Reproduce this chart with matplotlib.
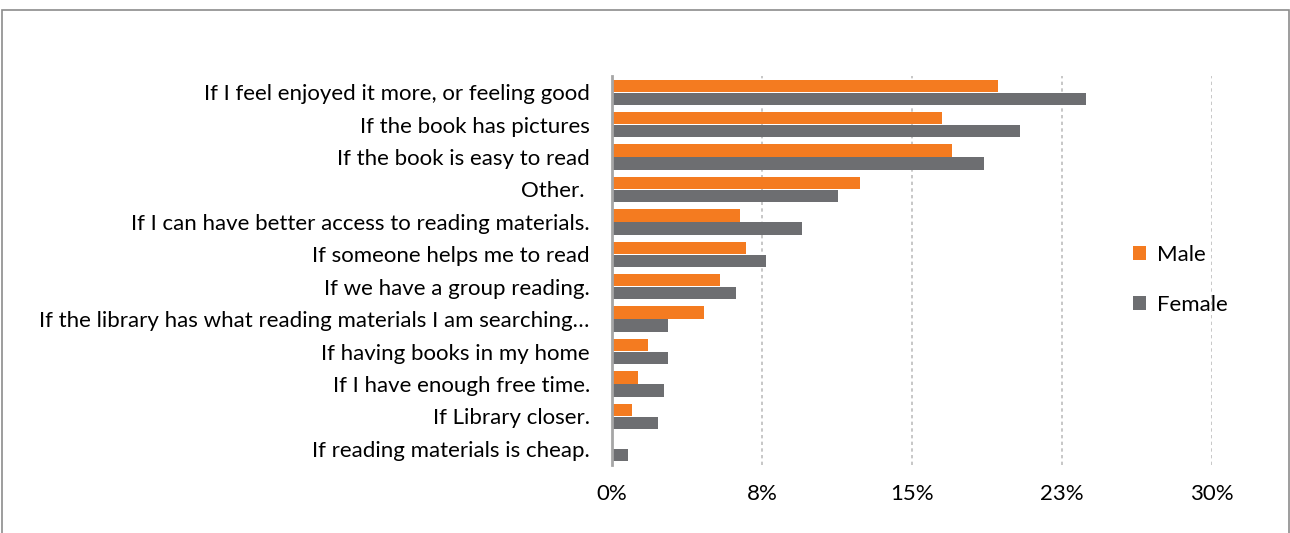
import numpy as np
import matplotlib.pyplot as plt
from matplotlib.patches import Rectangle
from matplotlib.ticker import FuncFormatter

categories = ["If I feel enjoyed it more, or feeling good",
              "If the book has pictures",
              "If the book is easy to read",
              "Other. ",
              "If I can have better access to reading materials.",
              "If someone helps me to read",
              "If we have a group reading.",
              "If the library has what reading materials I am searching\u2026",
              "If having books in my home",
              "If I have enough free time.",
              "If Library closer.",
              "If reading materials is cheap."]
male = [19.3, 16.5, 17.0, 12.4, 6.4, 6.7, 5.4, 4.6, 1.8, 1.3, 1.0, 0.0]
female = [23.7, 20.4, 18.6, 11.3, 9.5, 7.7, 6.2, 2.8, 2.8, 2.6, 2.3, 0.8]
xticks = [0, 7.5, 15, 22.5, 30]

plt.rcParams['font.family'] = ['Lato', 'DejaVu Sans']

fig = plt.figure(figsize=(12.9, 5.33), dpi=100)
ax = fig.add_axes([612/1290, 1-465/533, 600/1290, 389/533])

y = np.arange(len(categories))
h = 0.38
ax.barh(y - 0.2, male, height=h, color='#f47b20', label='Male', zorder=3)
ax.barh(y + 0.2, female, height=h, color='#6d6e71', label='Female', zorder=3)

ax.set_ylim(len(categories) - 0.5, -0.5)
ax.set_xlim(0, 30)
ax.set_yticks(y)
ax.set_yticklabels(categories, fontsize=16)
ax.set_xticks(xticks)
ax.xaxis.set_major_formatter(FuncFormatter(lambda v, p: f"{v:.0f}%" if v != 22.5 else "23%"))
ax.tick_params(axis='x', labelsize=16, length=0, pad=14)
ax.tick_params(axis='y', length=0, pad=16)

ax.grid(axis='x', linestyle=(0, (2, 2)), color='#bdbdbd', linewidth=1.2, zorder=0)
for s in ['top', 'right', 'bottom']:
    ax.spines[s].set_visible(False)
ax.spines['left'].set_color('#a6a6a6')
ax.spines['left'].set_linewidth(2)
ax.spines['left'].set_zorder(4)

fig.legend(loc='upper left', bbox_to_anchor=(1113/1290, 1-225/533), frameon=False,
           fontsize=16, handlelength=0.6, handleheight=0.6, handletextpad=0.5,
           labelspacing=1.35)

fig.patches.append(Rectangle((2/1290, -0.05), 1287/1290, 1.05 - 10/533,
                             transform=fig.transFigure, fill=False,
                             edgecolor='#8c8c8c', linewidth=1.2))

fig.savefig('out.png', dpi=100)
